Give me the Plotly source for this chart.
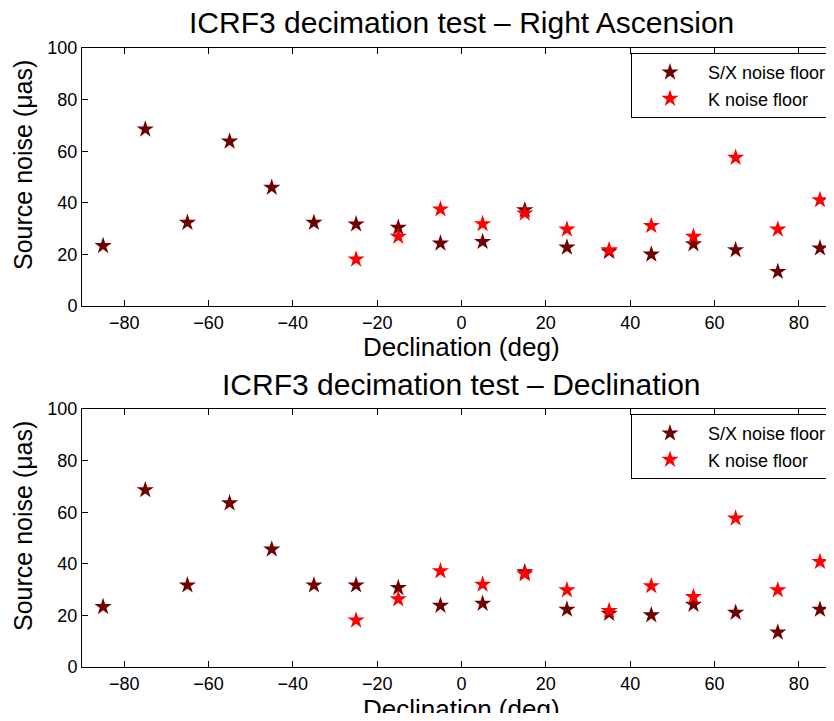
import plotly.graph_objects as go

# ---- data ----
dec_bins = [-85, -75, -65, -55, -45, -35, -25, -15, -5, 5, 15, 25, 35, 45, 55, 65, 75, 85]

ra_sx = [23.3, 68.5, 32.3, 63.8, 45.9, 32.3, 31.7, 30.4, 24.3, 24.9, 37.2, 22.7, 21.1, 20.0, 24.0, 21.7, 13.3, 22.4]
ra_k = [None, None, None, None, None, None, 18.1, 26.9, 37.5, 31.8, 35.9, 29.7, 21.7, 31.1, 26.9, 57.5, 29.7, 41.1]

de_sx = [23.3, 68.6, 31.7, 63.5, 45.6, 31.7, 31.7, 30.7, 23.8, 24.6, 36.8, 22.3, 20.7, 20.1, 24.2, 21.1, 13.4, 22.3]
de_k = [None, None, None, None, None, None, 18.1, 26.3, 37.2, 32.0, 36.0, 29.8, 21.8, 31.4, 27.2, 57.6, 29.8, 40.8]

x_ticks = [-80, -60, -40, -20, 0, 20, 40, 60, 80]
y_ticks = [0, 20, 40, 60, 80, 100]

titles = ["ICRF3 decimation test \u2013 Right Ascension", "ICRF3 decimation test \u2013 Declination"]
series_names = ["S/X noise floor", "K noise floor"]
x_label = "Declination (deg)"
y_label = "Source noise (\u03bcas)"

# ---- styling ----
OFF = 8  # default page body margin
W, H = 834 - 2 * OFF, 721 - 2 * OFF
SX_COLOR = "#700000"
K_COLOR = "#ff0000"
FONT = "Liberation Sans, Arial, Helvetica, sans-serif"
L = 82 - OFF
plot_w = W - L
X_RIGHT = -90 + plot_w / 4.217
MS = 13


def py(px):
    return 1 - (px - OFF) / H


def pxx(px):
    return (px - OFF - L) / plot_w


fig = go.Figure()

panels = [(ra_sx, ra_k, "x", "y", "legend", (48, 306), 24),
          (de_sx, de_k, "x2", "y2", "legend2", (409, 667), 25)]

for (sx, k, xa, ya, lg, _, _) in panels:
    fig.add_trace(go.Scatter(x=dec_bins, y=sx, mode="markers", name=series_names[0],
                             marker=dict(symbol="star", size=MS, color=SX_COLOR, line=dict(width=0)),
                             xaxis=xa, yaxis=ya, legend=lg))
    fig.add_trace(go.Scatter(x=dec_bins, y=k, mode="markers", name=series_names[1],
                             marker=dict(symbol="star", size=MS, color=K_COLOR, line=dict(width=0)),
                             xaxis=xa, yaxis=ya, legend=lg))

axis_common = dict(showline=True, linecolor="black", linewidth=1, ticks="inside", ticklen=6,
                   tickcolor="black", tickwidth=1, showgrid=False, zeroline=False, automargin=False,
                   tickfont=dict(family=FONT, size=18, color="black"))

layout = dict(width=W, height=H, margin=dict(l=L, r=0, t=0, b=0, autoexpand=False),
              paper_bgcolor="white", plot_bgcolor="white", font=dict(family=FONT, color="black"),
              annotations=[])

for i, (sx, k, xa, ya, lg, (top, bot), xl_off) in enumerate(panels):
    sfx = "" if i == 0 else "2"
    layout["xaxis" + sfx] = dict(axis_common, range=[-90, X_RIGHT], tickvals=x_ticks, mirror="ticks",
                                 anchor="y" + sfx, domain=[0, 1])
    layout["yaxis" + sfx] = dict(axis_common, range=[0, 100], tickvals=y_ticks, mirror=False,
                                 anchor="x" + sfx, domain=[py(bot), py(top)])
    layout["legend" + sfx] = dict(x=pxx(832), y=py(top + 5), xanchor="right", yanchor="top",
                                  bordercolor="black", borderwidth=1, bgcolor="white",
                                  font=dict(family=FONT, size=18, color="black"),
                                  itemwidth=66, tracegroupgap=0)
    layout["annotations"].append(dict(text=titles[i], x=pxx(461.5), y=py(top - 6.5), xref="paper", yref="paper",
                                      xanchor="center", yanchor="bottom", showarrow=False,
                                      font=dict(family=FONT, size=30, color="black")))
    layout["annotations"].append(dict(text=x_label, x=pxx(461.5), y=py(bot + xl_off), xref="paper", yref="paper",
                                      xanchor="center", yanchor="top", showarrow=False,
                                      font=dict(family=FONT, size=26, color="black")))
    layout["annotations"].append(dict(text=y_label, x=pxx(23), y=py((top + bot) / 2 - 12), xref="paper", yref="paper",
                                      xanchor="center", yanchor="middle", showarrow=False, textangle=-90,
                                      font=dict(family=FONT, size=25, color="black")))

fig.update_layout(**layout)
fig.write_html("out.html")
